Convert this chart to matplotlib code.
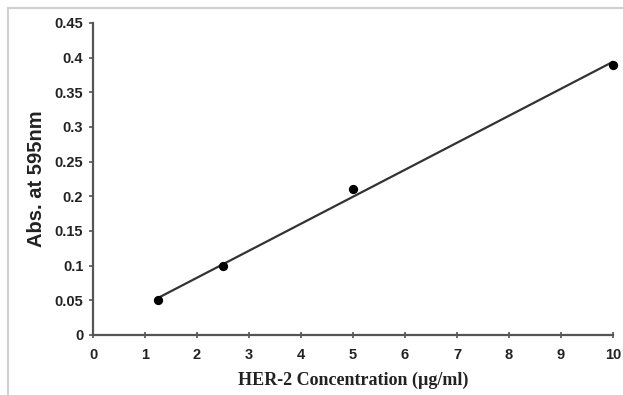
import numpy as np
import matplotlib
matplotlib.use("Agg")
import matplotlib.pyplot as plt
from matplotlib.lines import Line2D

conc = [1.25, 2.5, 5.0, 10.0]
absorb = [0.05, 0.099, 0.21, 0.39]
xticks = list(range(0, 11))
yticks = [0, 0.05, 0.1, 0.15, 0.2, 0.25, 0.3, 0.35, 0.4, 0.45]
ytick_labels = ["0", "0.05", "0.1", "0.15", "0.2", "0.25", "0.3", "0.35", "0.4", "0.45"]

fig = plt.figure(figsize=(6.23, 3.95), dpi=100)
ax = fig.add_axes([93/623, 1-335/395, (613-93)/623, (335-23)/395])

slope, intercept = np.polyfit(conc, absorb, 1)
xf = np.array([conc[0], conc[-1]])
ax.plot(xf, slope*xf + intercept, color="#333333", lw=1.6, zorder=2)
ax.scatter(conc, absorb, s=32, color="black", zorder=3, clip_on=False)

ax.set_xlim(0, 10)
ax.set_ylim(0, 0.45)
ax.set_xticks(xticks)
ax.set_xticklabels([str(t) for t in xticks])
ax.set_yticks(yticks)
ax.set_yticklabels(ytick_labels)

for s in ["top", "right"]:
    ax.spines[s].set_visible(False)
for s in ["left", "bottom"]:
    ax.spines[s].set_color("#555555")
    ax.spines[s].set_linewidth(1.6)

ax.tick_params(axis="y", direction="out", length=3, width=1.2, color="#555555", pad=4)
ax.tick_params(axis="x", direction="inout", length=5, width=1.2, color="#555555", pad=7)
for lab in ax.get_xticklabels() + ax.get_yticklabels():
    lab.set_family("Liberation Sans")
    lab.set_fontweight("bold")
    lab.set_fontsize(10.5)
    lab.set_color("#222222")

ax.set_xlabel("HER-2 Concentration (µg/ml)", family="Liberation Serif", fontweight="bold",
              fontsize=13, color="#222222", labelpad=7)
ax.set_ylabel("Abs. at 595nm", family="Liberation Sans", fontweight="bold",
              fontsize=14.5, color="#222222", labelpad=6)

# chart area border (top and left edges)
fig.add_artist(Line2D([8/623, 1], [1-8/395, 1-8/395], transform=fig.transFigure, color="#d0d0d0", lw=1.5))
fig.add_artist(Line2D([8/623, 8/623], [0, 1-8/395], transform=fig.transFigure, color="#d0d0d0", lw=1.5))

fig.savefig("out.png", dpi=100)
